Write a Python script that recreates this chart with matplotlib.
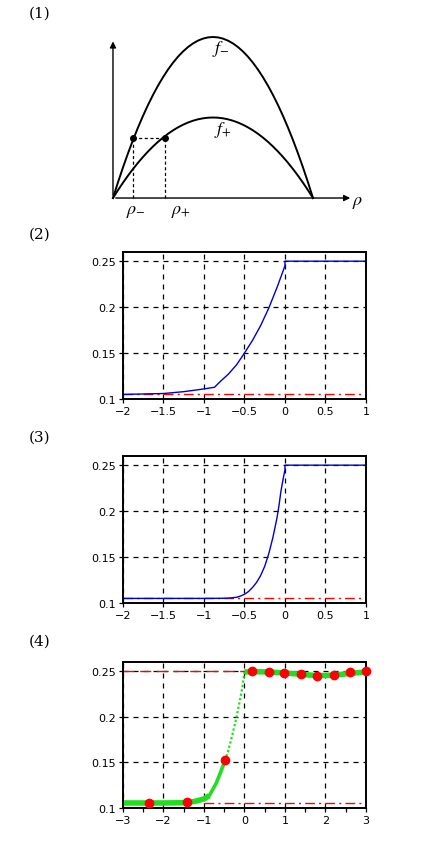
import matplotlib
matplotlib.use('Agg')
import matplotlib.pyplot as plt
from matplotlib.ticker import MultipleLocator

plt.rcParams['mathtext.fontset'] = 'stix'

# panel 1: schematic flux curves
rho_pts = [0.0, 0.025, 0.05, 0.075, 0.1, 0.125, 0.15, 0.175, 0.2, 0.225, 0.25,
           0.275, 0.3, 0.325, 0.35, 0.375, 0.4, 0.425, 0.45, 0.475, 0.5,
           0.525, 0.55, 0.575, 0.6, 0.625, 0.65, 0.675, 0.7, 0.725, 0.75,
           0.775, 0.8, 0.825, 0.85, 0.875, 0.9, 0.925, 0.95, 0.975, 1.0]
f_minus = [0.0, 0.0975, 0.19, 0.2775, 0.36, 0.4375, 0.51, 0.5775, 0.64, 0.6975, 0.75,
           0.7975, 0.84, 0.8775, 0.91, 0.9375, 0.96, 0.9775, 0.99, 0.9975, 1.0,
           0.9975, 0.99, 0.9775, 0.96, 0.9375, 0.91, 0.8775, 0.84, 0.7975, 0.75,
           0.6975, 0.64, 0.5775, 0.51, 0.4375, 0.36, 0.2775, 0.19, 0.0975, 0.0]
f_plus = [0.0, 0.0488, 0.095, 0.1388, 0.18, 0.2188, 0.255, 0.2888, 0.32, 0.3488, 0.375,
          0.3988, 0.42, 0.4388, 0.455, 0.4688, 0.48, 0.4888, 0.495, 0.4988, 0.5,
          0.4988, 0.495, 0.4888, 0.48, 0.4688, 0.455, 0.4388, 0.42, 0.3988, 0.375,
          0.3488, 0.32, 0.2888, 0.255, 0.2188, 0.18, 0.1388, 0.095, 0.0488, 0.0]
rho_m, rho_p, f_star = 0.1, 0.26, 0.37

# panel 2
x2 = [-2.0, -1.75, -1.5, -1.25, -1.0, -0.87, -0.8, -0.7, -0.6, -0.5, -0.4, -0.3, -0.2, -0.1, -0.05, 0.0, 0.0, 1.0]
y2 = [0.105, 0.1055, 0.106, 0.108, 0.111, 0.1128, 0.119, 0.127, 0.137, 0.150, 0.164, 0.180, 0.199, 0.221, 0.233, 0.245, 0.25, 0.25]

# panel 3
x3 = [-2.0, -1.0, -0.8, -0.7, -0.6, -0.55, -0.5, -0.45, -0.4, -0.35, -0.3, -0.25, -0.2, -0.15,
      -0.1, -0.075, -0.05, -0.025, 0.0, 0.0, 1.0]
y3 = [0.105, 0.105, 0.1051, 0.1053, 0.1062, 0.1075, 0.1095, 0.1125, 0.117, 0.1225, 0.130, 0.140, 0.1537, 0.171,
      0.192, 0.2055, 0.2216, 0.234, 0.245, 0.25, 0.25]

# panel 4: green reference curve pieces + red samples
x4a = [-3.0, -2.5, -2.0, -1.6, -1.4, -1.2, -1.0, -0.87]
y4a = [0.1055, 0.1055, 0.1055, 0.1057, 0.106, 0.1075, 0.110, 0.1135]
x4b = [-0.87, -0.8, -0.7, -0.6, -0.48]
y4b = [0.1135, 0.119, 0.127, 0.138, 0.152]
x4c = [-0.48, -0.4, -0.3, -0.2, -0.1, -0.05, -0.02, 0.0]
y4c = [0.152, 0.163, 0.180, 0.199, 0.221, 0.233, 0.243, 0.249]
x4d = [0.0, 0.2, 0.6, 1.0, 1.4, 1.8, 2.2, 2.6, 3.0]
y4d = [0.249, 0.2495, 0.249, 0.248, 0.2465, 0.245, 0.2455, 0.2475, 0.249]
dots_x = [-2.36, -1.41, -0.47, 0.19, 0.6, 0.98, 1.4, 1.8, 2.2, 2.6, 3.0]
dots_y = [0.1055, 0.107, 0.1526, 0.25, 0.249, 0.248, 0.2465, 0.245, 0.2455, 0.2485, 0.25]

u_low, u_high = 0.105, 0.25

fig = plt.figure(figsize=(4.26, 8.45), dpi=100)

# ---- (1) ----
ax1 = fig.add_axes([0.2347, 0.7337, 0.6338, 0.2308])
ax1.set_xlim(-0.065, 1.285)
ax1.set_ylim(-0.1615, 1.0497)
ax1.axis('off')
ax1.plot(rho_pts, f_minus, color='black', lw=1.4)
ax1.plot(rho_pts, f_plus, color='black', lw=1.4)
ax1.annotate('', xy=(1.2, 0), xytext=(0, 0),
             arrowprops=dict(arrowstyle='-|>', color='black', lw=1.0, mutation_scale=9))
ax1.annotate('', xy=(0, 0.99), xytext=(0, 0),
             arrowprops=dict(arrowstyle='-|>', color='black', lw=1.0, mutation_scale=9))
ax1.plot([rho_m, rho_p], [f_star, f_star], 'k--', lw=0.9, dashes=(2.5, 2))
ax1.plot([rho_m, rho_m], [0, f_star], 'k--', lw=0.9, dashes=(2.5, 2))
ax1.plot([rho_p, rho_p], [0, f_star], 'k--', lw=0.9, dashes=(2.5, 2))
ax1.plot([rho_m, rho_p], [f_star, f_star], 'ko', ms=4)
ax1.text(1.225, -0.02, r'$\rho$', fontsize=13, ha='center', va='center')
ax1.text(rho_m + 0.015, -0.075, r'$\rho_{-}$', fontsize=13, ha='center', va='center')
ax1.text(rho_p + 0.08, -0.075, r'$\rho_{+}$', fontsize=13, ha='center', va='center')
ax1.text(0.54, 0.93, r'$f_{-}$', fontsize=13, ha='center', va='center')
ax1.text(0.55, 0.43, r'$f_{+}$', fontsize=13, ha='center', va='center')


def style_axes(ax, xlim, xticks):
    ax.set_xlim(*xlim)
    ax.set_ylim(0.1, 0.26)
    ax.set_xticks(xticks)
    ax.set_yticks([0.1, 0.15, 0.2, 0.25])
    ax.set_yticklabels(['0.1', '0.15', '0.2', '0.25'])
    ax.set_xticklabels([('%g' % t).replace('-', '\u2212') for t in xticks])
    ax.grid(True, color='black', linestyle=(0, (4, 4)), lw=0.9)
    ax.tick_params(direction='out', length=3, width=0.9, labelsize=8, pad=2)
    for s in ax.spines.values():
        s.set_linewidth(1.4)


# ---- (2) ----
ax2 = fig.add_axes([0.2887, 0.5266, 0.5704, 0.174])
style_axes(ax2, (-2, 1), [-2, -1.5, -1, -0.5, 0, 0.5, 1])
ax2.axhline(u_low, color='red', lw=1, linestyle=(0, (7, 3, 1.5, 3)))
ax2.plot(x2, y2, color='#0000cc', lw=1)

# ---- (3) ----
ax3 = fig.add_axes([0.2887, 0.2852, 0.5704, 0.174])
style_axes(ax3, (-2, 1), [-2, -1.5, -1, -0.5, 0, 0.5, 1])
ax3.axhline(u_low, color='red', lw=1, linestyle=(0, (7, 3, 1.5, 3)))
ax3.plot(x3, y3, color='#0000cc', lw=1)

# ---- (4) ----
ax4 = fig.add_axes([0.2887, 0.0426, 0.5704, 0.1728])
style_axes(ax4, (-3, 3), [-3, -2, -1, 0, 1, 2, 3])
ax4.xaxis.set_minor_locator(MultipleLocator(0.5))
ax4.tick_params(which='minor', direction='out', length=3, width=0.9)
ax4.plot([-3, 0], [u_high, u_high], color='red', lw=1, linestyle=(0, (8, 4)))
ax4.plot([-1, 3], [u_low, u_low], color='red', lw=1, linestyle=(0, (7, 3, 1.5, 3)))
ax4.plot(x4a, y4a, color='#22dd22', lw=4, solid_capstyle='butt')
ax4.plot(x4b, y4b, color='#22dd22', lw=2.6)
ax4.plot(x4c, y4c, color='#22dd22', lw=1.6, linestyle=(0, (1, 1)))
ax4.plot(x4d, y4d, color='#22dd22', lw=4, solid_capstyle='butt')
ax4.plot(dots_x, dots_y, 'o', color='red', ms=6, clip_on=False, zorder=5)

for lab, yp in [('(1)', 14), ('(2)', 235), ('(3)', 438), ('(4)', 642)]:
    fig.text(40 / 426, 1 - yp / 845, lab, fontsize=11, family='DejaVu Serif',
             ha='center', va='center')

fig.savefig('out.png', dpi=100)
